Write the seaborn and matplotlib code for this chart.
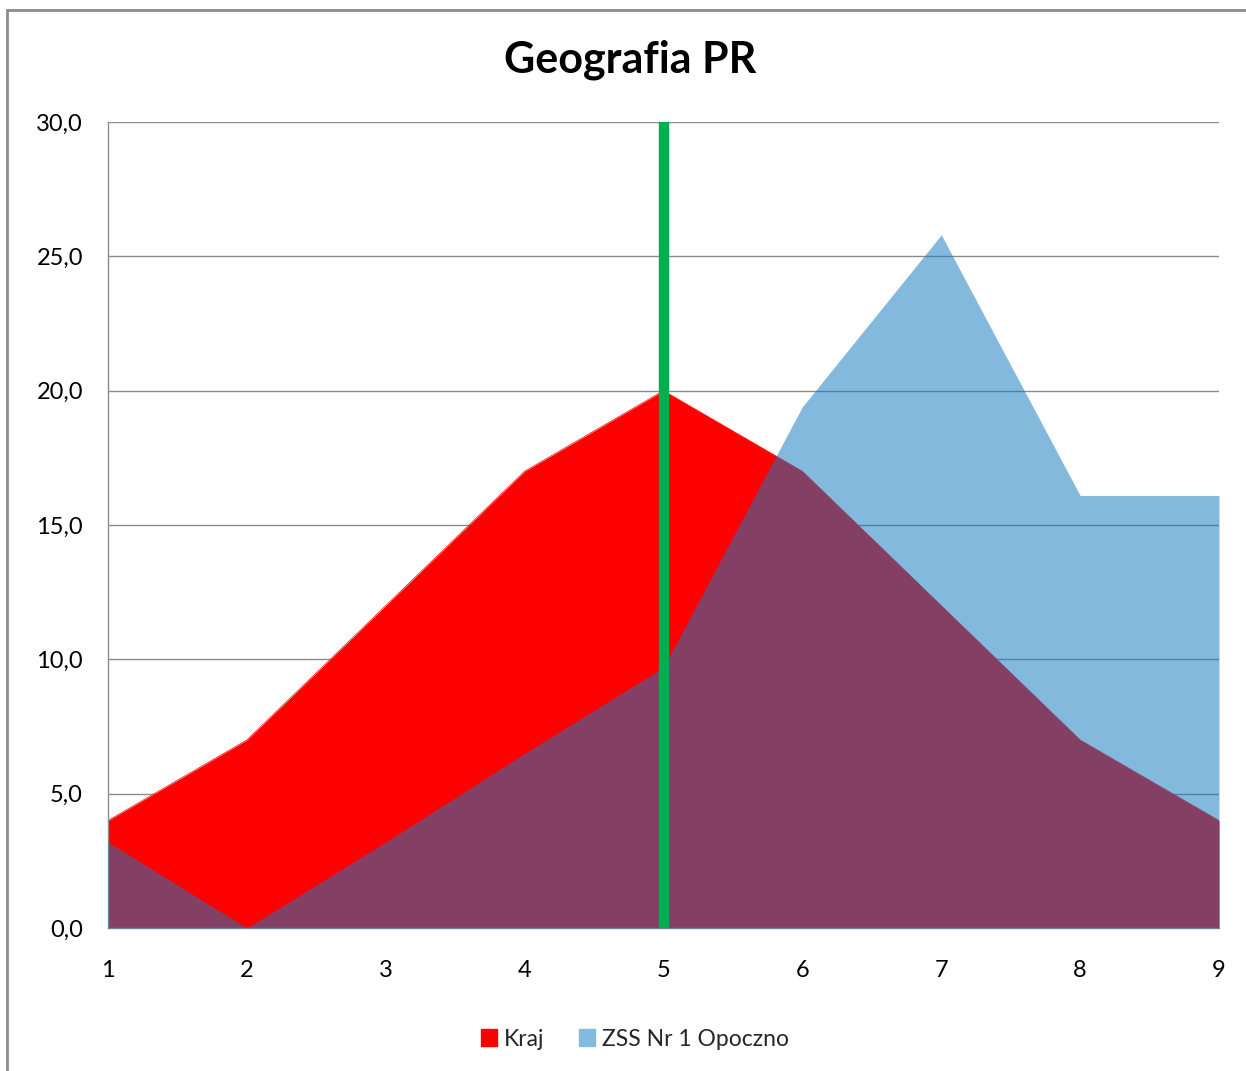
import numpy as np
import pandas as pd
import matplotlib
matplotlib.use("Agg")
import matplotlib.pyplot as plt
import seaborn as sns
from matplotlib.patches import Patch, Rectangle
from matplotlib.ticker import FuncFormatter

# dane
punkty = [1, 2, 3, 4, 5, 6, 7, 8, 9]
kraj = [4.0, 7.0, 12.0, 17.0, 20.0, 17.0, 12.0, 7.0, 4.0]
zss = [3.2, 0.0, 3.2, 6.5, 9.7, 19.4, 25.8, 16.1, 16.1]
linia_x = 5

sns.set_style("white")
plt.rcParams['font.family'] = ['Lato', 'DejaVu Sans']

df = pd.DataFrame({"punkt": punkty, "Kraj": kraj, "ZSS Nr 1 Opoczno": zss})

fig = plt.figure(figsize=(12.46, 10.71), dpi=100)
ax = fig.add_axes([108 / 1246, 1 - 928 / 1071, (1219 - 108) / 1246, (928 - 122) / 1071])

# ramka wykresu
fig.patches.append(Rectangle((7 / 1246, -0.05), 1.1, 1 - 10 / 1071 + 0.05,
                             transform=fig.transFigure, fill=False,
                             edgecolor="#8c8c8c", linewidth=2, zorder=0))

red = "#FF0000"
blue = (19 / 255, 122 / 255, 193 / 255)

ax.fill_between(df["punkt"], 0, df["Kraj"], color=red, linewidth=0, zorder=2)
ax.fill_between(df["punkt"], 0, df["ZSS Nr 1 Opoczno"], color=blue, alpha=0.52,
                linewidth=0, zorder=3)
sns.lineplot(data=df, x="punkt", y="Kraj", ax=ax, color=red, linewidth=0.5, zorder=2)
ax.axvline(linia_x, ymin=0, ymax=1, color="#00B050", linewidth=7.5, zorder=5)

ax.set_xlim(1, 9)
ax.set_ylim(0, 30)
ax.set_xticks(punkty)
ax.set_yticks(np.arange(0, 31, 5))
ax.yaxis.set_major_formatter(FuncFormatter(lambda v, p: f"{v:.1f}".replace(".", ",")))
ax.grid(axis="y", color="#8c8c8c", linewidth=1)
ax.set_axisbelow(True)
ax.set_xlabel("")
ax.set_ylabel("")
for s in ["top", "right"]:
    ax.spines[s].set_visible(False)
for s in ["left", "bottom"]:
    ax.spines[s].set_color("#8c8c8c")
    ax.spines[s].set_linewidth(1)
ax.tick_params(axis="both", labelsize=17, length=0, colors="#000000")
ax.tick_params(axis="x", pad=23)
ax.tick_params(axis="y", pad=18)

fig.text(630 / 1246, 1 - 60 / 1071, "Geografia PR", ha="center", va="center",
         fontsize=31, fontweight="bold", color="#000000")

handles = [Patch(color=red, label="Kraj"),
           Patch(color="#85BADF", label="ZSS Nr 1 Opoczno")]
fig.legend(handles=handles, loc="center", bbox_to_anchor=(635 / 1246, 1 - 1039 / 1071),
           ncol=2, frameon=False, fontsize=16.5, handlelength=0.7, handleheight=0.7,
           handletextpad=0.3, columnspacing=1.5)

fig.savefig("out.png", dpi=100)
